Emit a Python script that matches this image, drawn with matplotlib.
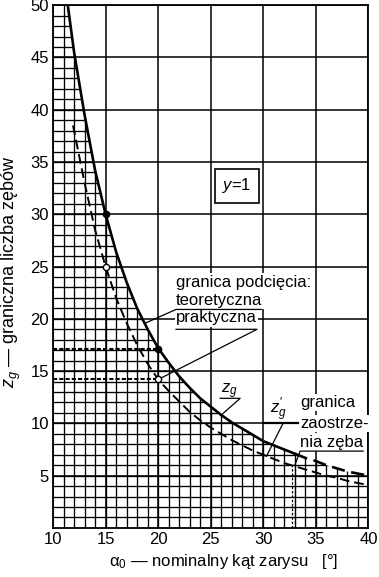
import numpy as np
import matplotlib
matplotlib.use('Agg')
import matplotlib.pyplot as plt
from matplotlib.patches import Polygon

plt.rcParams['font.family'] = ['Liberation Sans', 'DejaVu Sans']
plt.rcParams['mathtext.fontset'] = 'custom'
plt.rcParams['mathtext.rm'] = 'Liberation Sans'
plt.rcParams['mathtext.it'] = 'Liberation Sans:italic'

# theoretical limit z_g (solid line)
alpha_teor = [11.4, 12, 13, 14, 15, 16, 17, 18, 19, 20, 21, 22, 23, 24, 25,
              26, 27, 28, 29, 30, 31, 32, 33, 34, 35, 36, 37, 38, 39, 40]
z_teor = [50.0, 45.5, 39.5, 34.2, 30.0, 26.4, 23.5, 21.0, 19.0, 17.2, 15.8,
          14.5, 13.4, 12.4, 11.6, 10.8, 10.1, 9.5, 8.9, 8.3, 7.9, 7.5, 7.1,
          6.7, 6.4, 6.0, 5.7, 5.4, 5.2, 5.0]

# practical limit z'_g (dashed line)
alpha_prakt = [11.9, 12, 13, 14, 15, 16, 17, 18, 19, 20, 21, 22, 23, 24, 25,
               26, 27, 28, 29, 30, 31, 32, 33, 34, 35, 36, 37, 38, 39, 40]
z_prakt = [38.5, 38.0, 33.0, 28.5, 25.0, 22.0, 19.6, 17.5, 15.7, 14.2, 13.1,
           12.1, 11.1, 10.3, 9.6, 9.0, 8.4, 7.9, 7.4, 7.0, 6.6, 6.2, 5.9,
           5.6, 5.3, 5.0, 4.8, 4.5, 4.3, 4.1]

# marked points
dot_alpha = [15, 20]
dot_teor = [30.0, 17.1]
dot_prakt = [25.0, 14.2]

# tooth tip sharpening limit
alpha_sharp = 33.0
sharp_lines = [32.7, 33.0]
sharp_top = 6.0

fig = plt.figure(figsize=(3.79, 5.77), dpi=100)
ax = fig.add_axes([0.140, 0.085, 0.832, 0.906])
ax.set_xlim(10, 40)
ax.set_ylim(0, 50)

# major grid
ax.set_xticks(np.arange(10, 41, 5))
ax.set_yticks(np.arange(5, 51, 5))
ax.set_axisbelow(True)
ax.grid(True, color='k', lw=1.1)
ax.tick_params(length=0, pad=3, labelsize=12)
for sp in ax.spines.values():
    sp.set_linewidth(1.3)

# fine grid only under the z_g curve
ax_t = np.array(alpha_teor)
z_t = np.array(z_teor)
clip_xy = np.column_stack([np.r_[10, 10, ax_t, 40], np.r_[0, 50, z_t, 0]])
clip = Polygon(clip_xy, closed=True, transform=ax.transData)
vl = ax.vlines(np.arange(11, 40), 0, 50, color='k', lw=0.95, zorder=1)
hl = ax.hlines(np.arange(1, 50), 10, 40, color='k', lw=0.95, zorder=1)
vl.set_clip_path(clip)
hl.set_clip_path(clip)

# curves
solid = ax_t <= alpha_sharp
ax.plot(ax_t[solid], z_t[solid], color='k', lw=1.9, zorder=3)
tail = ax_t >= alpha_sharp
ax.plot(ax_t[tail], z_t[tail], color='k', lw=1.9, ls=(0, (5, 2.5)), zorder=3)
ax.plot(alpha_prakt, z_prakt, color='k', lw=1.4, ls=(0, (5, 2.5)), zorder=3)

# limit lines to the marked points
ax.hlines(dot_teor[1], 10, dot_alpha[1], color='k', lw=1.5, ls=(0, (2, 1)), zorder=3)
ax.hlines(dot_prakt[1], 10, dot_alpha[1], color='k', lw=1.5, ls=(0, (2, 1)), zorder=3)
ax.vlines(sharp_lines, 0, sharp_top, color='k', lw=0.9, ls=(0, (2, 1.5)), zorder=3)

ax.plot(dot_alpha, dot_teor, 'o', ms=4.5, mfc='k', mec='k', zorder=6)
ax.plot(dot_alpha, dot_prakt, 'o', ms=4.5, mfc='white', mec='k', mew=1.0, zorder=6)

# labels
fs = 12
wb = dict(facecolor='white', edgecolor='none', pad=1.0)
ax.text(27.5, 32.75, '$y$=1', fontsize=fs, ha='center', va='center', zorder=4,
        bbox=dict(facecolor='white', edgecolor='k', lw=1.2, boxstyle='square,pad=0.45'))
ax.text(21.7, 23.5, 'granica podcięcia:', fontsize=fs, ha='left', va='center', bbox=wb)
ax.text(21.7, 21.8, 'teoretyczna', fontsize=fs, ha='left', va='center', bbox=wb)
ax.text(21.7, 20.1, 'praktyczna', fontsize=fs, ha='left', va='center', bbox=wb)
ax.text(26.0, 13.1, '$z_g$', fontsize=fs, ha='left', va='center')
ax.text(30.6, 11.3, "$z_g'$", fontsize=fs, ha='left', va='center')
ax.text(33.5, 12.0, 'granica', fontsize=fs, ha='left', va='center', bbox=wb)
ax.text(33.5, 10.0, 'zaostrze-', fontsize=fs, ha='left', va='center', bbox=wb)
ax.text(33.5, 8.2, 'nia zęba', fontsize=fs, ha='left', va='center', bbox=wb)

# underlines and leaders
lk = dict(color='k', lw=0.9, zorder=5)
ax.plot([29.8, 21.7, 18.8], [20.9, 20.9, 19.6], **lk)
ax.plot([21.7, 29.4, 20.0], [19.0, 19.0, 14.2], **lk)
ax.plot([25.9, 27.8, 26.0], [12.4, 12.4, 10.8], **lk)
ax.plot([30.0, 33.3], [10.05, 10.05], color='k', lw=1.6, zorder=5)
ax.plot([31.9, 30.3], [10.05, 6.85], **lk)
ax.plot([39.5, 33.5, 33.0], [7.35, 7.35, 6.0], **lk)

ax.set_xlabel(r'$\mathrm{\alpha}_0$ — nominalny kąt zarysu   [°]', fontsize=12)
ax.xaxis.set_label_coords(0.54, -0.046)
ax.xaxis.label.set_va('top')
ax.set_ylabel(r'$z_g$ — graniczna liczba zębów', fontsize=13)
ax.yaxis.set_label_coords(-0.095, 0.49)

fig.savefig('out.png', dpi=100)
